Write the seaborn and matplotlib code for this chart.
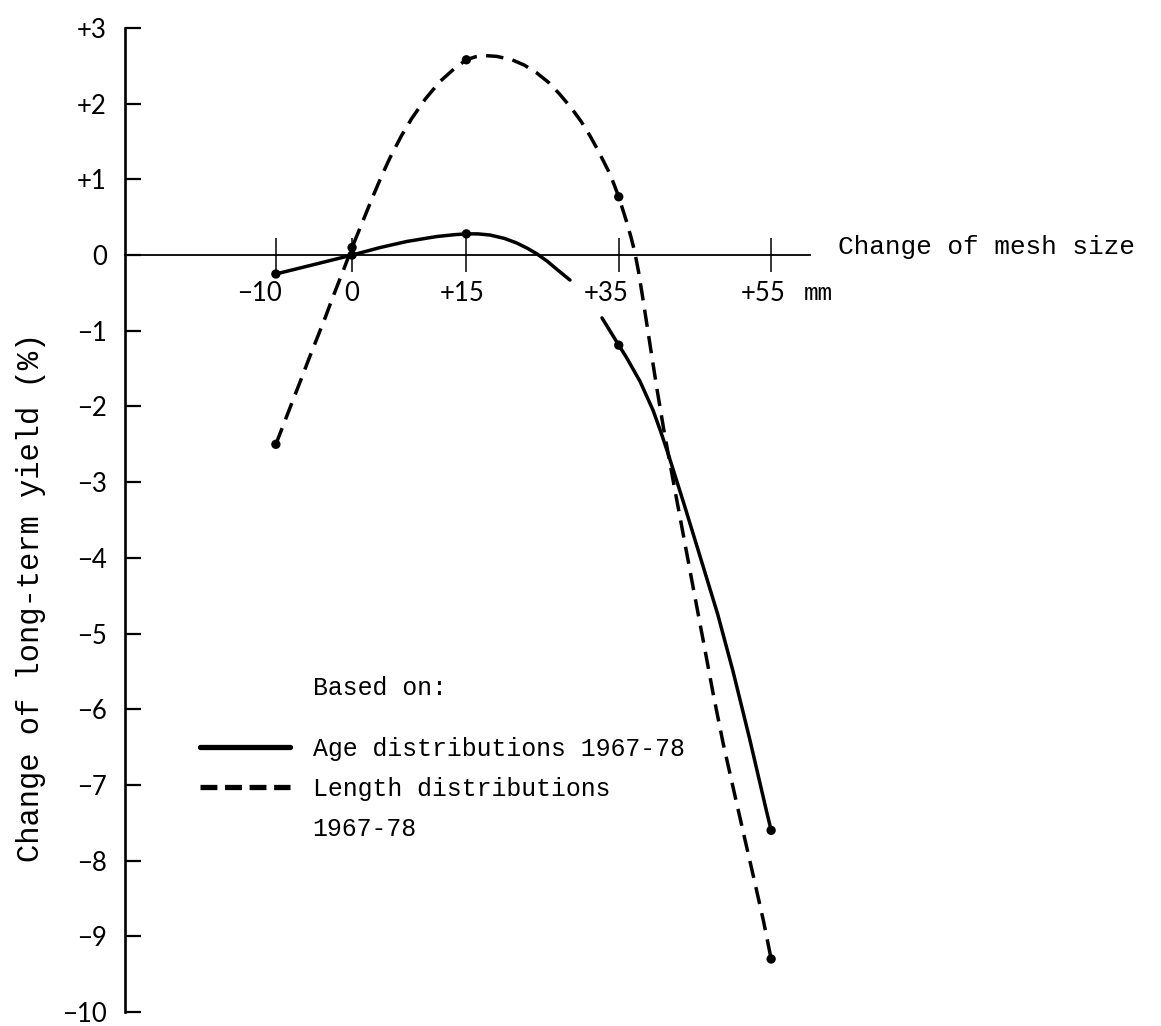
import matplotlib
matplotlib.use("Agg")
import matplotlib.pyplot as plt
import matplotlib.transforms as mtransforms
from matplotlib.lines import Line2D
import seaborn as sns

# ---------------- data ----------------
mesh_change = [-10, 0, 15, 35, 55]                 # mm
mesh_labels = ["\u221210", "0", "+15", "+35", "+55"]
age_observed = [-0.25, 0.0, 0.28, -1.19, -7.6]
length_observed = [-2.5, 0.1, 2.58, 0.77, -9.3]

# hand-drawn curves, digitised along their course
age_curve_a_x = [-10, -6.8, -3.4, 0, 3.7, 7.2, 11.1, 13.5, 15, 16.5, 18.1, 20.0, 21.6,
                 23.0, 24.2, 25.6, 26.9, 28.6]
age_curve_a_y = [-0.25, -0.17, -0.085, 0.0, 0.10, 0.18, 0.245, 0.27, 0.28, 0.28, 0.265,
                 0.22, 0.16, 0.09, 0.02, -0.08, -0.19, -0.33]
age_curve_b_x = [32.8, 35, 36.0, 37.8, 39.5, 40.5, 41.5, 43.6, 45.7, 48.0, 50.0, 52.2,
                 54.4, 55]
age_curve_b_y = [-0.83, -1.19, -1.35, -1.67, -2.05, -2.33, -2.63, -3.3, -3.99, -4.75,
                 -5.5, -6.4, -7.35, -7.6]

length_curve_x = [-10, -9.0, -8.0, -6.8, -5.7, -4.6, -3.5, -2.5, -1.1, 0, 1.5, 2.8, 3.9,
                  5.0, 6.5, 7.8, 9.6, 11.5, 13.5, 15, 16.2, 17.5, 19.0, 21.0, 22.6, 24.2,
                  25.8, 27.3, 28.8, 30.1, 31.2, 32.3, 33.9, 35, 36.0, 36.6, 37.1, 37.6,
                  38.0, 38.7, 39.3, 40.0, 40.9, 41.5, 42.4, 43.5, 44.8, 46.1, 47.4, 48.7,
                  50.0, 51.4, 52.7, 54.0, 55]
length_curve_y = [-2.5, -2.24, -1.98, -1.67, -1.38, -1.1, -0.82, -0.55, -0.19, 0.1, 0.47,
                  0.79, 1.05, 1.29, 1.58, 1.80, 2.06, 2.29, 2.47, 2.58, 2.62, 2.635, 2.625,
                  2.58, 2.51, 2.41, 2.28, 2.12, 1.94, 1.76, 1.58, 1.38, 1.06, 0.77, 0.45,
                  0.24, 0.04, -0.22, -0.47, -0.92, -1.31, -1.76, -2.3, -2.63, -3.12, -3.71,
                  -4.41, -5.1, -5.8, -6.45, -7.03, -7.65, -8.22, -8.8, -9.3]

y_ticks = [3, 2, 1, 0, -1, -2, -3, -4, -5, -6, -7, -8, -9, -10]
y_labels = ["+3", "+2", "+1", "0"] + ["\u2212%d" % abs(v) for v in y_ticks[4:]]

legend_labels = ["Age distributions 1967-78", "Length distributions", "1967-78"]

# ---------------- style ----------------
sns.set_theme(style="ticks")
plt.rcParams["font.family"] = ["Liberation Mono", "DejaVu Sans"]
plt.rcParams["axes.facecolor"] = "white"
plt.rcParams["figure.facecolor"] = "white"

W, H = 1161, 1026
fig = plt.figure(figsize=(W / 100, H / 100), dpi=100)
ax = fig.add_axes([125 / W, 1 - 1012 / H, (810 - 125) / W, (1012 - 28) / H])

LW = 2.5
DASH = (0, (5.0, 2.7))

sns.lineplot(x=age_curve_a_x, y=age_curve_a_y, ax=ax, color="black", lw=LW,
             sort=False, estimator=None)
sns.lineplot(x=age_curve_b_x, y=age_curve_b_y, ax=ax, color="black", lw=LW,
             sort=False, estimator=None)
sns.lineplot(x=length_curve_x, y=length_curve_y, ax=ax, color="black", lw=LW,
             linestyle=DASH, sort=False, estimator=None)
sns.scatterplot(x=mesh_change, y=age_observed, ax=ax, color="black", s=45,
                edgecolor="none", zorder=5)
sns.scatterplot(x=mesh_change, y=length_observed, ax=ax, color="black", s=45,
                edgecolor="none", zorder=5)

ax.set_xlim(-29.8, 60.1)
ax.set_ylim(-10, 3)

for s in ["top", "right"]:
    ax.spines[s].set_visible(False)
ax.spines["bottom"].set_position(("data", 0))
ax.spines["bottom"].set_linewidth(1.3)
ax.spines["left"].set_linewidth(1.9)
ax.spines["left"].set_color("black")
ax.spines["bottom"].set_color("black")

ax.set_yticks(y_ticks)
ax.set_yticklabels(y_labels, fontfamily="Lato", fontsize=18.5)
ax.set_xticks(mesh_change)
ax.set_xticklabels(mesh_labels, fontfamily="Lato", fontsize=18.5)
ax.tick_params(axis="y", direction="in", length=11.5, width=1.6, pad=13,
               left=True, colors="black")
ax.tick_params(axis="x", direction="inout", length=24, width=1.1, pad=7,
               bottom=True, colors="black")

x_offsets_px = [-16, 0, -4, -13, -8]
for lbl, dx in zip(ax.get_xticklabels(), x_offsets_px):
    lbl.set_transform(lbl.get_transform() +
                      mtransforms.ScaledTranslation(dx / 100, 0, fig.dpi_scale_trans))

ax.set_xlabel("")
ax.set_ylabel("Change of long-term yield (%)", fontsize=22, color="black")
ax.yaxis.set_label_coords(-(125 - 46) / 685, (1012 - 597) / 984)

fig.text(838 / W, 1 - 247 / H, "Change of mesh size", fontsize=18.8,
         ha="left", va="center", color="black")
fig.text(804 / W, 1 - 293 / H, "mm", fontsize=17.5, ha="left", va="center",
         color="black")
fig.text(313 / W, 1 - 688 / H, "Based on:", fontsize=17.9, ha="left",
         va="center", color="black")

handles = [Line2D([], [], color="black", lw=3.8),
           Line2D([], [], color="black", lw=3.8, linestyle=(0, (3.2, 1.45))),
           Line2D([], [], color="none", lw=0)]
leg = ax.legend(handles=handles, labels=legend_labels, loc="upper left",
                bbox_to_anchor=(200 / W, 1 - 737 / H), bbox_transform=fig.transFigure,
                frameon=False, fontsize=17.9, handlelength=3.6, handletextpad=0.93,
                labelspacing=0.65, borderpad=0, borderaxespad=0)
for t in leg.get_texts():
    t.set_color("black")

fig.savefig("out.png", dpi=100, facecolor="white")
